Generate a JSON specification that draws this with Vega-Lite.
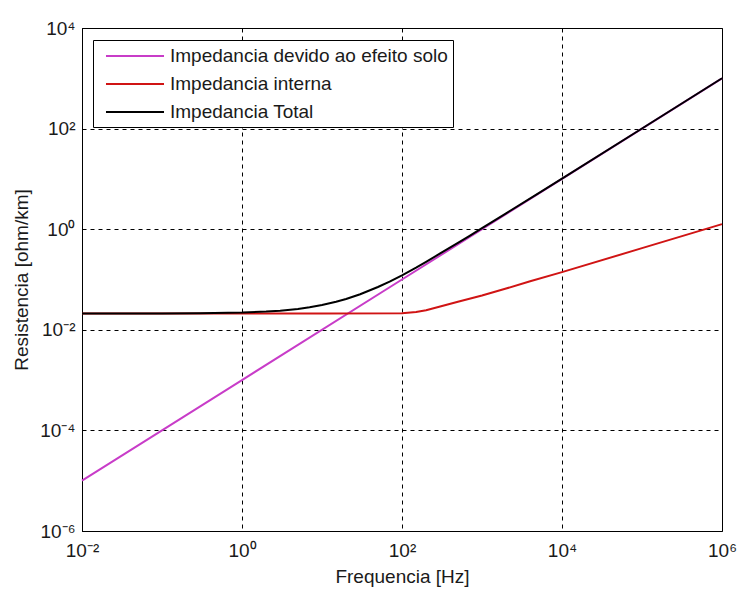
{
  "$schema": "https://vega.github.io/schema/vega-lite/v6.json",
  "width": 640,
  "height": 503,
  "autosize": {"type": "none"},
  "padding": {"left": 82, "top": 28, "right": 18, "bottom": 61},
  "background": "white",
  "config": {
    "font": "Liberation Sans",
    "view": {"stroke": "black", "strokeWidth": 1},
    "axis": {
      "labelFont": "Liberation Sans",
      "titleFont": "Liberation Sans",
      "labelFontSize": 19,
      "titleFontSize": 19,
      "titleFontWeight": "normal",
      "labelColor": "#1a1a1a",
      "titleColor": "#1a1a1a",
      "domainColor": "black",
      "ticks": false,
      "grid": true,
      "gridColor": "black",
      "gridOpacity": 1,
      "gridDash": [4, 4],
      "gridWidth": 1,
      "labelOverlap": false,
      "labelFlush": false
    }
  },
  "data": {
    "values": [
      {"f": 0.01, "R": 0.00001, "serie": "Impedancia devido ao efeito solo"},
      {"f": 1, "R": 0.001, "serie": "Impedancia devido ao efeito solo"},
      {"f": 100, "R": 0.1, "serie": "Impedancia devido ao efeito solo"},
      {"f": 10000, "R": 10, "serie": "Impedancia devido ao efeito solo"},
      {"f": 1000000, "R": 1000, "serie": "Impedancia devido ao efeito solo"},

      {"f": 0.01, "R": 0.021, "serie": "Impedancia interna"},
      {"f": 1, "R": 0.021, "serie": "Impedancia interna"},
      {"f": 10, "R": 0.021, "serie": "Impedancia interna"},
      {"f": 100, "R": 0.0213, "serie": "Impedancia interna"},
      {"f": 150, "R": 0.0225, "serie": "Impedancia interna"},
      {"f": 200, "R": 0.0245, "serie": "Impedancia interna"},
      {"f": 300, "R": 0.029, "serie": "Impedancia interna"},
      {"f": 500, "R": 0.036, "serie": "Impedancia interna"},
      {"f": 1000, "R": 0.048, "serie": "Impedancia interna"},
      {"f": 2000, "R": 0.066, "serie": "Impedancia interna"},
      {"f": 4000, "R": 0.092, "serie": "Impedancia interna"},
      {"f": 10000, "R": 0.14, "serie": "Impedancia interna"},
      {"f": 100000, "R": 0.42, "serie": "Impedancia interna"},
      {"f": 1000000, "R": 1.26, "serie": "Impedancia interna"},

      {"f": 0.01, "R": 0.02101, "serie": "Impedancia Total"},
      {"f": 0.1, "R": 0.0211, "serie": "Impedancia Total"},
      {"f": 0.3, "R": 0.0213, "serie": "Impedancia Total"},
      {"f": 1, "R": 0.022, "serie": "Impedancia Total"},
      {"f": 2, "R": 0.023, "serie": "Impedancia Total"},
      {"f": 3, "R": 0.024, "serie": "Impedancia Total"},
      {"f": 5, "R": 0.026, "serie": "Impedancia Total"},
      {"f": 7, "R": 0.028, "serie": "Impedancia Total"},
      {"f": 10, "R": 0.031, "serie": "Impedancia Total"},
      {"f": 15, "R": 0.036, "serie": "Impedancia Total"},
      {"f": 20, "R": 0.041, "serie": "Impedancia Total"},
      {"f": 30, "R": 0.051, "serie": "Impedancia Total"},
      {"f": 50, "R": 0.071, "serie": "Impedancia Total"},
      {"f": 70, "R": 0.091, "serie": "Impedancia Total"},
      {"f": 100, "R": 0.1213, "serie": "Impedancia Total"},
      {"f": 150, "R": 0.1725, "serie": "Impedancia Total"},
      {"f": 200, "R": 0.2245, "serie": "Impedancia Total"},
      {"f": 300, "R": 0.329, "serie": "Impedancia Total"},
      {"f": 500, "R": 0.536, "serie": "Impedancia Total"},
      {"f": 700, "R": 0.74, "serie": "Impedancia Total"},
      {"f": 1000, "R": 1.048, "serie": "Impedancia Total"},
      {"f": 2000, "R": 2.07, "serie": "Impedancia Total"},
      {"f": 5000, "R": 5.1, "serie": "Impedancia Total"},
      {"f": 10000, "R": 10.14, "serie": "Impedancia Total"},
      {"f": 100000, "R": 100.4, "serie": "Impedancia Total"},
      {"f": 1000000, "R": 1001.3, "serie": "Impedancia Total"}
    ]
  },
  "encoding": {
    "x": {
      "field": "f",
      "type": "quantitative",
      "scale": {"type": "log", "domain": [0.01, 1000000], "nice": false},
      "axis": {
        "title": "Frequencia [Hz]",
        "values": [0.01, 1, 100, 10000, 1000000],
        "labelExpr": "datum.value < 0.1 ? '10⁻²' : datum.value < 10 ? '10⁰' : datum.value < 1000 ? '10²' : datum.value < 100000 ? '10⁴' : '10⁶'",
        "labelPadding": 10,
        "titlePadding": 7
      }
    },
    "y": {
      "field": "R",
      "type": "quantitative",
      "scale": {"type": "log", "domain": [0.000001, 10000], "nice": false},
      "axis": {
        "title": "Resistencia [ohm/km]",
        "values": [0.000001, 0.0001, 0.01, 1, 100, 10000],
        "labelExpr": "datum.value < 0.00001 ? '10⁻⁶' : datum.value < 0.001 ? '10⁻⁴' : datum.value < 0.1 ? '10⁻²' : datum.value < 10 ? '10⁰' : datum.value < 1000 ? '10²' : '10⁴'",
        "labelPadding": 7,
        "titlePadding": 8
      }
    },
    "color": {
      "field": "serie",
      "type": "nominal",
      "scale": {
        "domain": ["Impedancia devido ao efeito solo", "Impedancia interna", "Impedancia Total"],
        "range": ["#c83cc8", "#d01414", "#000000"]
      },
      "legend": {
        "orient": "none",
        "legendX": 11,
        "legendY": 12,
        "title": null,
        "symbolType": "M-3,0H3",
        "symbolSize": 374,
        "symbolStrokeWidth": 2,
        "labelFont": "Liberation Sans",
        "labelFontSize": 19,
        "labelColor": "#1a1a1a",
        "labelLimit": 400,
        "labelOffset": 24,
        "symbolOffset": 26,
        "padding": 5,
        "rowPadding": 7,
        "strokeColor": "black",
        "fillColor": "white"
      }
    }
  },
  "layer": [
    {
      "transform": [{"filter": "datum.serie === 'Impedancia devido ao efeito solo'"}],
      "mark": {"type": "line", "strokeWidth": 2}
    },
    {
      "transform": [{"filter": "datum.serie === 'Impedancia interna'"}],
      "mark": {"type": "line", "strokeWidth": 2}
    },
    {
      "transform": [{"filter": "datum.serie === 'Impedancia Total'"}],
      "mark": {"type": "line", "strokeWidth": 2}
    }
  ]
}
